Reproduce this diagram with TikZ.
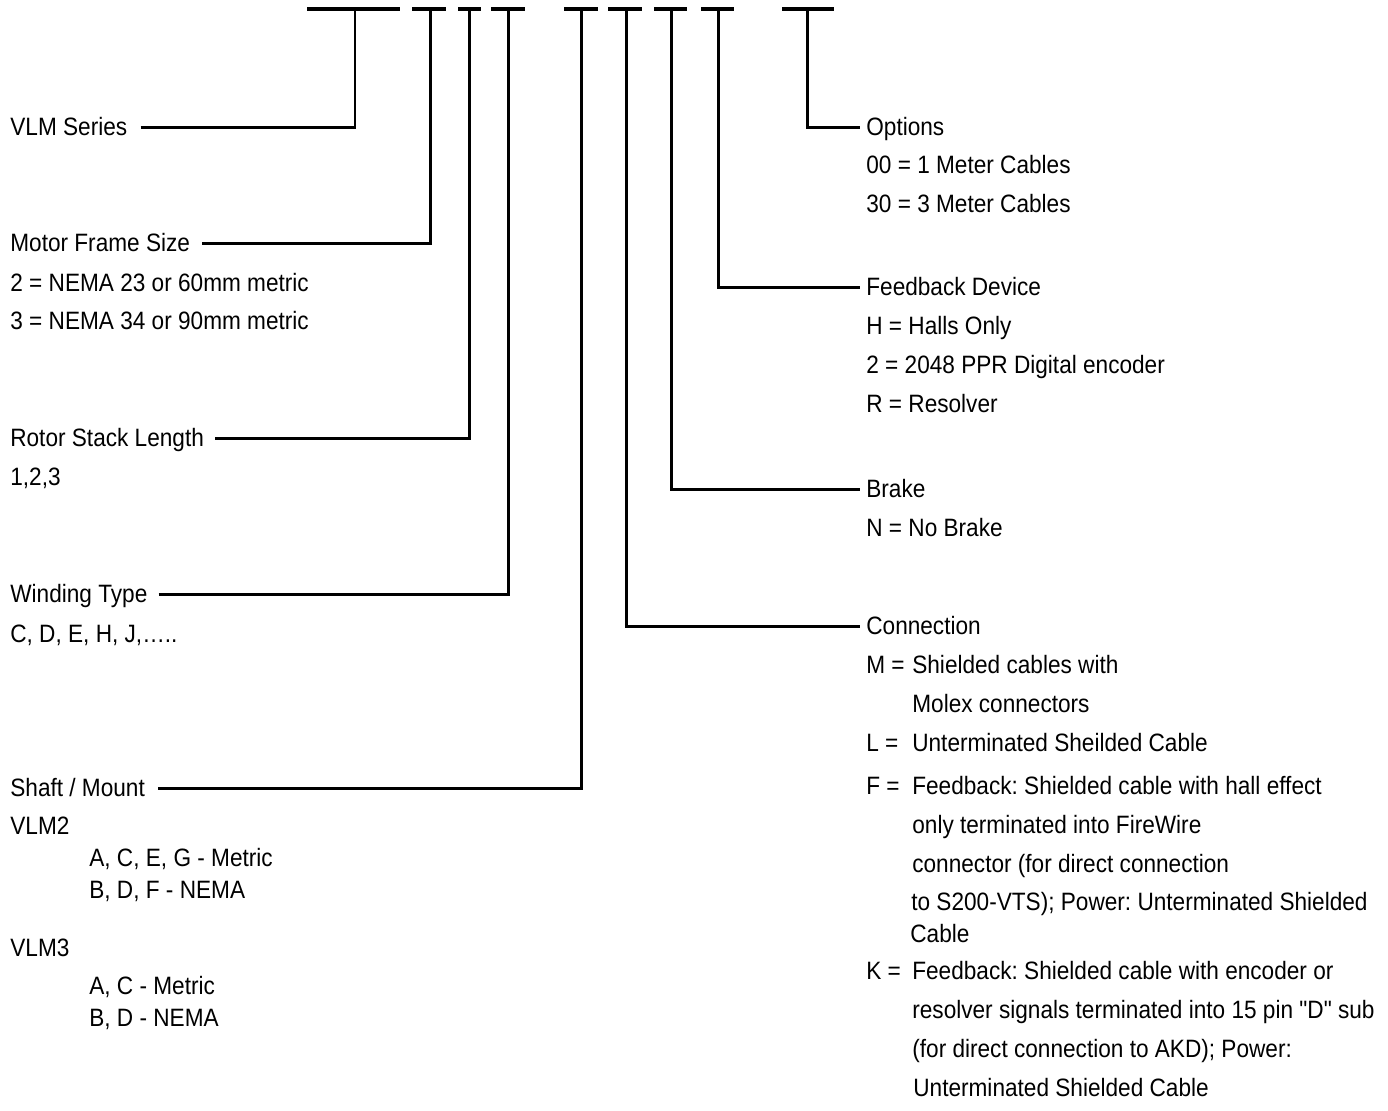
\documentclass[tikz,border=0pt]{standalone}
\usepackage{fontspec}
\setmainfont{Liberation Sans}[FakeStretch=0.9,Ligatures=TeXOff]
\usepackage{tikz}
\usetikzlibrary{positioning}
\frenchspacing

% width of the "X =" prefix in the connection list
\newcommand{\codekey}[1]{\makebox[0.92cm][l]{#1}}

\begin{document}
\begin{tikzpicture}[x=0.02cm,y=-0.02cm,
  lbl/.style={anchor=west,inner sep=0pt,font=\fontsize{14.3}{17}\selectfont,
    text height=10.2pt,text depth=0pt},
  slot/.style={line width=1.8pt},
  lead/.style={line width=1.7pt}]
  \useasboundingbox (0,0) rectangle (1388,1110);

  % code slots along the top
  \foreach \a/\b/\s/\n in {307/400/355/s1, 412/446/430/s2, 458/481/469/s3,
      491/525/508/s4, 564/598/581/s5, 608/642/626/s6, 654/687/671/s7,
      701/734/718/s8, 782/834/807/s9}{
    \draw[slot] (\a,9) -- (\b,9);
    \coordinate (\n) at (\s,9);
  }

  % left column
  \node[lbl] (series) at (10,127) {VLM Series};
  \node[lbl] (frame) at (10,243) {Motor Frame Size};
  \node[lbl] (frame2) at (10,283) {2 = NEMA 23 or 60mm metric};
  \node[lbl] (frame3) at (10,321) {3 = NEMA 34 or 90mm metric};
  \node[lbl] (stack) at (10,438) {Rotor Stack Length};
  \node[lbl] (stackv) at (10,477) {1,2,3};
  \node[lbl] (wind) at (10,594) {Winding Type};
  \node[lbl] (windv) at (10,634) {C, D, E, H, J,…..};
  \node[lbl] (shaft) at (10,788) {Shaft / Mount};
  \node[lbl] (vlmtwo) at (10,826) {VLM2};
  \node[lbl] (vlmtwoa) at (89,858) {A, C, E, G - Metric};
  \node[lbl] (vlmtwob) at (89,890) {B, D, F - NEMA};
  \node[lbl] (vlmthree) at (10,948) {VLM3};
  \node[lbl] (vlmthreea) at (89,986) {A, C - Metric};
  \node[lbl] (vlmthreeb) at (89,1018) {B, D - NEMA};

  % right column
  \node[lbl] (opt) at (866,127) {Options};
  \node[lbl] (opt1) at (866,165) {00 = 1 Meter Cables};
  \node[lbl] (opt2) at (866,204) {30 = 3 Meter Cables};
  \node[lbl] (fb) at (866,287) {Feedback Device};
  \node[lbl] (fbh) at (866,326) {H = Halls Only};
  \node[lbl] (fbe) at (866,365) {2 = 2048 PPR Digital encoder};
  \node[lbl] (fbr) at (866,404) {R = Resolver};
  \node[lbl] (brake) at (866,489) {Brake};
  \node[lbl] (braken) at (866,528) {N = No Brake};
  \node[lbl] (conn) at (866,626) {Connection};
  \node[lbl] (connm) at (866,665) {\codekey{M =}Shielded cables with};
  \node[lbl] (connm2) at (912,704) {Molex connectors};
  \node[lbl] (connl) at (866,743) {\codekey{L =}Unterminated Sheilded Cable};
  \node[lbl] (connf) at (866,786) {\codekey{F =}Feedback: Shielded cable with hall effect};
  \node[lbl] (connf2) at (912,825) {only terminated into FireWire};
  \node[lbl] (connf3) at (912,864) {connector (for direct connection};
  \node[lbl] (connf4) at (911,902) {to S200-VTS); Power: Unterminated Shielded};
  \node[lbl] (connf5) at (910,934) {Cable};
  \node[lbl] (connk) at (866,971) {\codekey{K =}Feedback: Shielded cable with encoder or};
  \node[lbl] (connk2) at (912,1010) {resolver signals terminated into 15 pin "D" sub};
  \node[lbl] (connk3) at (912,1049) {(for direct connection to AKD); Power:};
  \node[lbl] (connk4) at (913,1088) {Unterminated Shielded Cable};

  % leads from the slots
  \draw[lead] ([xshift=0.26cm]series.east) -| (s1);
  \draw[lead] ([xshift=0.24cm]frame.east) -| (s2);
  \draw[lead] ([xshift=0.22cm]stack.east) -| (s3);
  \draw[lead] ([xshift=0.22cm]wind.east) -| (s4);
  \draw[lead] ([xshift=0.26cm]shaft.east) -| (s5);
  \draw[lead] (s6) |- ([xshift=-0.12cm]conn.west);
  \draw[lead] (s7) |- ([xshift=-0.12cm]brake.west);
  \draw[lead] (s8) |- ([xshift=-0.12cm]fb.west);
  \draw[lead] (s9) |- ([xshift=-0.12cm]opt.west);
\end{tikzpicture}
\end{document}
